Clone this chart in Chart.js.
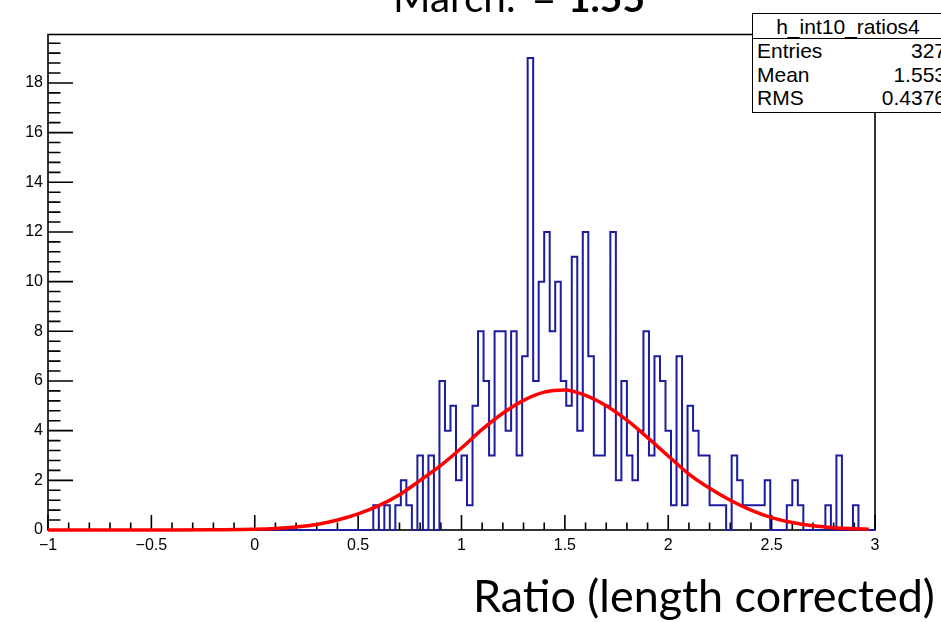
<!DOCTYPE html>
<html>
<head>
<meta charset="utf-8">
<script src="https://cdn.jsdelivr.net/npm/chart.js@4.4.0/dist/chart.umd.min.js"></script>
<style>
  html, body { margin: 0; padding: 0; background: #fff; }
  #wrap { position: relative; width: 941px; height: 622px; overflow: hidden; }
  #chart { position: absolute; left: 0; top: 0; }
  .slide { position: absolute; font-family: "Lato", "Open Sans", sans-serif; white-space: nowrap; line-height: 1; color: #000; }
  #stats { position: absolute; left: 752px; top: 13px; width: 210px; height: 98px; background: #fff;
           border: 1.5px solid #000; font-family: "Liberation Sans", Arial, sans-serif; font-size: 21px; color: #000; }
  #stats .head { height: 24px; border-bottom: 1.5px solid #000; text-align: center; padding-right: 20px; line-height: 25px; }
  #stats .row { position: relative; height: 23.5px; line-height: 24px; padding-left: 4px; }
  #stats .row span { position: absolute; right: 17px; top: 0; }
</style>
</head>
<body>
<div id="wrap">
  <canvas id="chart" width="941" height="622"></canvas>
  <div id="title">
    <span class="slide" id="t1">March:</span>
    <span class="slide" id="t2">=</span>
    <span class="slide" id="t3"><b>1.55</b></span>
  </div>
  <div class="slide" id="xtitle">Ratio (length corrected)</div>
  <div id="stats">
    <div class="head">h_int10_ratios4</div>
    <div class="row">Entries<span>327</span></div>
    <div class="row">Mean<span>1.553</span></div>
    <div class="row">RMS<span>0.4376</span></div>
  </div>
</div>
<script>
// Histogram binning (150 bins from -1 to 3)
const xMin = -1;
const xMax = 3;
const nBins = 150;

// Bin contents (10 bins per row)
const counts = [
  0, 0, 0, 0, 0, 0, 0, 0, 0, 0,
  0, 0, 0, 0, 0, 0, 0, 0, 0, 0,
  0, 0, 0, 0, 0, 0, 0, 0, 0, 0,
  0, 0, 0, 0, 0, 0, 0, 0, 0, 0,
  0, 0, 0, 0, 0, 0, 0, 0, 0, 0,
  0, 0, 0, 0, 0, 0, 0, 0, 0, 1,
  0, 1, 0, 1, 2, 1, 0, 3, 0, 3,
  0, 6, 4, 5, 2, 3, 1, 5, 8, 6,
  3, 8, 8, 4, 8, 3, 7, 19, 6, 10,
  12, 8, 10, 6, 5, 11, 4, 12, 7, 3,
  3, 5, 12, 2, 6, 3, 2, 4, 8, 3,
  7, 6, 4, 1, 7, 1, 5, 4, 3, 3,
  1, 1, 1, 0, 3, 2, 1, 1, 1, 1,
  2, 0, 0, 0, 1, 2, 1, 0, 0, 0,
  0, 1, 0, 3, 0, 0, 1, 0, 0, 0
];

// Red fitted curve
const fitX = [-1.0, -0.8, -0.6, -0.4, -0.2, 0.0, 0.1, 0.2, 0.3, 0.4, 0.5, 0.6, 0.7, 0.8, 0.9,
              1.0, 1.1, 1.2, 1.3, 1.4, 1.5, 1.6, 1.7, 1.8, 1.9, 2.0, 2.1, 2.2, 2.3, 2.4,
              2.5, 2.6, 2.7, 2.8, 2.9, 2.97];
const fitY = [0, 0, 0, 0, 0.01, 0.03, 0.06, 0.12, 0.22, 0.4, 0.65, 0.98, 1.42, 2.0, 2.6,
              3.3, 4.05, 4.7, 5.22, 5.55, 5.64, 5.42, 5.0, 4.42, 3.72, 2.98, 2.25, 1.68, 1.2, 0.8,
              0.5, 0.3, 0.17, 0.09, 0.05, 0.03];

const xTicks = [-1, -0.5, 0, 0.5, 1, 1.5, 2, 2.5, 3];
const yTicks = [0, 2, 4, 6, 8, 10, 12, 14, 16, 18];
const yMax = 19.95;

// build points for the line datasets
const binW = (xMax - xMin) / nBins;
const histPoints = counts.map((c, i) => ({ x: xMin + i * binW, y: c }));
histPoints.push({ x: xMax, y: counts[nBins - 1] });
const fitPoints = fitX.map((x, i) => ({ x: x, y: fitY[i] }));

function fmt(v) {
  return v < 0 ? '\u2212' + String(-v) : String(v);
}

// ROOT style frame with inside ticks (major + minor)
const framePlugin = {
  id: 'frame',
  beforeDatasetsDraw(chart) {
    const { ctx, chartArea: a, scales: { x, y } } = chart;
    ctx.save();
    ctx.strokeStyle = '#000';
    ctx.lineWidth = 1.6;
    ctx.strokeRect(a.left, a.top, a.right - a.left, a.bottom - a.top);
    ctx.beginPath();
    for (let i = 0; i <= 40; i++) {
      const v = xMin + i * 0.1;
      const px = x.getPixelForValue(v);
      const len = i % 5 === 0 ? 15 : 7.5;
      ctx.moveTo(px, a.bottom);
      ctx.lineTo(px, a.bottom - len);
    }
    for (let i = 0; i * 0.4 <= yMax; i++) {
      const py = y.getPixelForValue(i * 0.4);
      const len = i % 5 === 0 ? 25 : 12.5;
      ctx.moveTo(a.left, py);
      ctx.lineTo(a.left + len, py);
    }
    ctx.stroke();
    ctx.restore();
  }
};

new Chart(document.getElementById('chart').getContext('2d'), {
  type: 'line',
  data: {
    datasets: [
      {
        label: 'fit',
        data: fitPoints,
        borderColor: '#ff0000',
        borderWidth: 3.5,
        pointRadius: 0,
        cubicInterpolationMode: 'monotone',
        clip: false
      },
      {
        label: 'h_int10_ratios4',
        data: histPoints,
        stepped: 'before',
        borderColor: '#1c1c9e',
        borderWidth: 2,
        pointRadius: 0,
        clip: false
      }
    ]
  },
  options: {
    responsive: false,
    animation: false,
    layout: { padding: { left: 0, top: 34.5, right: 66, bottom: 0 } },
    plugins: { legend: { display: false }, tooltip: { enabled: false } },
    scales: {
      x: {
        type: 'linear',
        min: xMin,
        max: xMax,
        afterFit: s => { s.height = 92; },
        afterBuildTicks: s => { s.ticks = xTicks.map(v => ({ value: v })); },
        grid: { display: false, drawTicks: false },
        border: { display: false },
        ticks: {
          color: '#000', padding: 6, maxRotation: 0, autoSkip: false,
          font: { family: 'Liberation Sans', size: 16 },
          callback: v => fmt(v)
        }
      },
      y: {
        min: 0,
        max: yMax,
        afterFit: s => { s.width = 48; },
        afterBuildTicks: s => { s.ticks = yTicks.map(v => ({ value: v })); },
        grid: { display: false, drawTicks: false },
        border: { display: false },
        ticks: {
          color: '#000', padding: 5,
          font: { family: 'Liberation Sans', size: 16 },
          callback: v => fmt(v)
        }
      }
    }
  },
  plugins: [framePlugin]
});

// place the slide texts: fit to measured widths of the reference
function place(el, left, baseline, width, size) {
  el.style.fontSize = size + 'px';
  let fs = size;
  if (width) {
    const w = el.getBoundingClientRect().width;
    fs = size * width / w;
    el.style.fontSize = fs + 'px';
  }
  el.style.left = left + 'px';
  el.style.top = (baseline - fs * 0.85) + 'px';
}
place(document.getElementById('t1'), 393, 11, 123, 40);
place(document.getElementById('t3'), 568, 11, 77, 40);
place(document.getElementById('t2'), 532, 11, 24, 40);
place(document.getElementById('xtitle'), 473, 611, 462, 40);
</script>
</body>
</html>
